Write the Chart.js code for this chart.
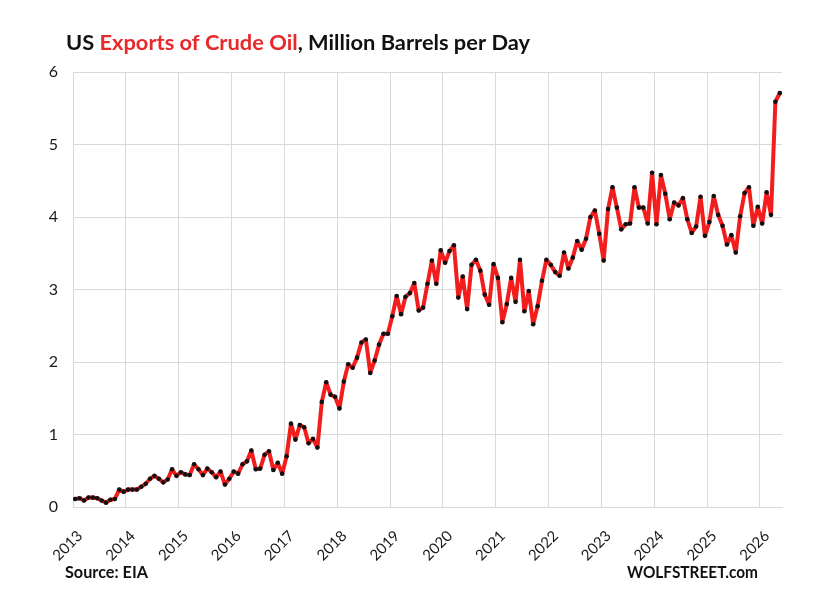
<!DOCTYPE html>
<html>
<head>
<meta charset="utf-8">
<title>US Exports of Crude Oil</title>
<script src="https://cdn.jsdelivr.net/npm/chart.js@4.4.1/dist/chart.umd.min.js"></script>
<style>
  html, body { margin: 0; padding: 0; background: #ffffff; }
  #wrap { width: 828px; height: 612px; }
</style>
</head>
<body>
<div id="wrap"><canvas id="myChart" width="828" height="612"></canvas></div>
<script>
// x-axis labels, one per January
const yearLabels = ["2013", "2014", "2015", "2016", "2017", "2018", "2019",
  "2020", "2021", "2022", "2023", "2024", "2025", "2026"];

// monthly exports, million barrels per day
const exports2013 = [0.11, 0.12, 0.09, 0.13, 0.13, 0.12, 0.09, 0.06, 0.10, 0.11, 0.24, 0.21];
const exports2014 = [0.24, 0.24, 0.24, 0.28, 0.32, 0.39, 0.43, 0.39, 0.34, 0.38, 0.52, 0.43];
const exports2015 = [0.48, 0.45, 0.44, 0.59, 0.52, 0.44, 0.53, 0.48, 0.41, 0.49, 0.31, 0.39];
const exports2016 = [0.49, 0.46, 0.59, 0.63, 0.78, 0.52, 0.53, 0.72, 0.77, 0.51, 0.61, 0.46];
const exports2017 = [0.70, 1.15, 0.93, 1.13, 1.10, 0.88, 0.94, 0.82, 1.45, 1.72, 1.55, 1.52];
const exports2018 = [1.36, 1.73, 1.97, 1.92, 2.06, 2.27, 2.31, 1.85, 2.02, 2.24, 2.39, 2.39];
const exports2019 = [2.63, 2.91, 2.66, 2.90, 2.95, 3.09, 2.71, 2.75, 3.08, 3.40, 3.08, 3.54];
const exports2020 = [3.37, 3.53, 3.61, 2.89, 3.18, 2.73, 3.34, 3.41, 3.26, 2.93, 2.79, 3.35];
const exports2021 = [3.16, 2.55, 2.80, 3.16, 2.83, 3.41, 2.70, 2.98, 2.52, 2.77, 3.12, 3.41];
const exports2022 = [3.34, 3.24, 3.19, 3.51, 3.29, 3.44, 3.67, 3.55, 3.70, 4.00, 4.09, 3.77];
const exports2023 = [3.40, 4.11, 4.41, 4.13, 3.83, 3.90, 3.91, 4.41, 4.13, 4.13, 3.91, 4.61];
const exports2024 = [3.90, 4.58, 4.32, 3.97, 4.20, 4.16, 4.26, 3.97, 3.78, 3.87, 4.28, 3.74];
const exports2025 = [3.93, 4.29, 4.03, 3.88, 3.62, 3.75, 3.51, 4.01, 4.33, 4.41, 3.88, 4.14];
const exports2026 = [3.91, 4.34, 4.03, 5.59, 5.71];

const yTicks = [0, 1, 2, 3, 4, 5, 6];

const exportsMbd = [].concat(exports2013, exports2014, exports2015, exports2016,
  exports2017, exports2018, exports2019, exports2020, exports2021, exports2022,
  exports2023, exports2024, exports2025, exports2026);

const RED = "#f21d1d";
const GRID = "#d9d9d9";
const FONT = "Lato, 'Noto Sans', sans-serif";

// draw a run of coloured text squeezed to a given width (Calibri is narrow)
function drawFitted(c, parts, x, y, width, font, alignRight) {
  c.save();
  c.font = font;
  const total = parts.reduce((s, p) => s + c.measureText(p[0]).width, 0);
  c.translate(alignRight ? x - width : x, y);
  c.scale(width / total, 1);
  c.textBaseline = "alphabetic";
  c.textAlign = "left";
  let cx = 0;
  parts.forEach(([text, color]) => {
    c.fillStyle = color;
    c.fillText(text, cx, 0);
    cx += c.measureText(text).width;
  });
  c.restore();
}

const headerFooter = {
  id: "headerFooter",
  afterDraw(chart) {
    const c = chart.ctx;
    drawFitted(c, [["US ", "#111"], ["Exports of Crude Oil", "#e8292b"],
      [", Million Barrels per Day", "#111"]], 66, 50, 464, "bold 21px " + FONT);
    drawFitted(c, [["Source: EIA", "#111"]], 65, 578, 83, "bold 17px " + FONT);
    drawFitted(c, [["WOLFSTREET.com", "#111"]], 758, 578, 131, "bold 17px " + FONT, true);
  },
};

const config = {
  type: "line",
  data: {
    datasets: [
      {
        label: "US crude oil exports",
        data: exportsMbd.map((v, i) => ({ x: i, y: v })),
        borderColor: RED,
        backgroundColor: RED,
        borderWidth: 4,
        borderJoinStyle: "round",
        borderCapStyle: "round",
        tension: 0,
        pointRadius: 2.3,
        pointBorderWidth: 0,
        pointBackgroundColor: "#111",
      },
    ],
  },
  options: {
    responsive: false,
    animation: false,
    layout: {
      padding: { left: 0, right: 46, top: 72, bottom: 0 },
    },
    plugins: {
      legend: { display: false },
      title: { display: false },
      tooltip: { enabled: false },
    },
    scales: {
      x: {
        type: "linear",
        min: -0.5,
        max: exportsMbd.length - 0.5,
        afterBuildTicks: (scale) => {
          scale.ticks = yearLabels.map((_, k) => ({ value: -0.5 + 12 * k }));
        },
        afterFit: (scale) => {
          scale.height = 105;
        },
        grid: { color: GRID, lineWidth: 1, drawTicks: false },
        border: { color: GRID },
        ticks: {
          autoSkip: false,
          minRotation: 45,
          maxRotation: 45,
          padding: 20,
          labelOffset: 7,
          color: "#1a1a1a",
          font: { family: FONT, size: 15 },
          callback: (value, index) => yearLabels[index],
        },
      },
      y: {
        min: yTicks[0],
        max: yTicks[yTicks.length - 1],
        afterBuildTicks: (scale) => {
          scale.ticks = yTicks.map((v) => ({ value: v }));
        },
        afterFit: (scale) => {
          scale.width = 73;
        },
        grid: { color: GRID, lineWidth: 1, drawTicks: false },
        border: { color: GRID },
        ticks: {
          padding: 15,
          color: "#1a1a1a",
          font: { family: FONT, size: 16 },
        },
      },
    },
  },
  plugins: [headerFooter],
};

const ctx = document.getElementById("myChart").getContext("2d");
new Chart(ctx, config);
</script>
</body>
</html>
